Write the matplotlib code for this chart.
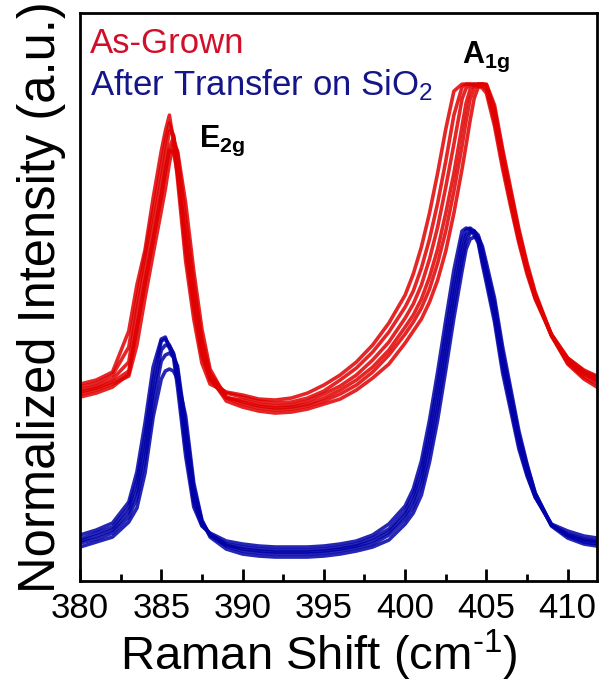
import matplotlib
matplotlib.use("Agg")
import matplotlib.pyplot as plt
from matplotlib.ticker import MultipleLocator

plt.rcParams['font.family'] = ['Liberation Sans', 'DejaVu Sans']
plt.rcParams['mathtext.fontset'] = 'custom'
plt.rcParams['mathtext.rm'] = 'Liberation Sans'
plt.rcParams['mathtext.it'] = 'Liberation Sans'
plt.rcParams['mathtext.bf'] = 'Liberation Sans:bold'

# Raman shift grid (cm^-1), denser around the E2g and A1g peaks
shift = [380, 381, 382, 383, 383.5, 384, 384.5, 385, 385.25, 385.5, 385.75, 386,
         386.5, 387, 387.5, 388, 389, 390, 391, 392, 393, 394, 395, 396, 397, 398,
         399, 400, 400.5, 401, 401.5, 402, 402.5, 403, 403.5, 403.75, 404, 404.25,
         404.5, 404.75, 405, 405.5, 406, 406.5, 407, 407.5, 408, 409, 410, 411, 411.8]

# as-grown spectra (offset upward)
grown = [
    [1.97, 2.01, 2.09, 2.50, 2.96, 3.31, 3.83, 4.30, 4.50, 4.66, 4.40, 4.02, 3.20, 2.62, 2.18, 1.97, 1.89,
     1.86, 1.82, 1.81, 1.83, 1.88, 1.96, 2.06, 2.19, 2.36, 2.58, 2.86, 3.07, 3.34, 3.68, 4.08, 4.52, 4.90,
     4.97, 4.97, 4.97, 4.96, 4.95, 4.93, 4.88, 4.55, 4.12, 3.74, 3.38, 3.07, 2.82, 2.46, 2.23, 2.11, 2.05],
    [1.94, 1.98, 2.06, 2.34, 2.83, 3.26, 3.70, 4.16, 4.40, 4.58, 4.45, 4.10, 3.30, 2.72, 2.25, 2.03, 1.88,
     1.84, 1.80, 1.78, 1.79, 1.83, 1.90, 2.01, 2.13, 2.29, 2.49, 2.74, 2.90, 3.13, 3.42, 3.78, 4.20, 4.66,
     4.94, 4.97, 4.97, 4.97, 4.96, 4.95, 4.92, 4.60, 4.17, 3.78, 3.41, 3.10, 2.84, 2.47, 2.23, 2.10, 2.04],
    [1.91, 1.95, 2.02, 2.19, 2.70, 3.14, 3.56, 4.01, 4.26, 4.50, 4.46, 4.16, 3.41, 2.81, 2.31, 2.01, 1.83,
     1.81, 1.77, 1.75, 1.76, 1.80, 1.87, 1.95, 2.06, 2.21, 2.39, 2.63, 2.77, 2.96, 3.22, 3.54, 3.94, 4.37,
     4.82, 4.93, 4.96, 4.97, 4.97, 4.97, 4.95, 4.66, 4.21, 3.81, 3.43, 3.11, 2.84, 2.46, 2.21, 2.08, 2.01],
    [1.89, 1.93, 1.99, 2.10, 2.53, 2.99, 3.42, 3.86, 4.09, 4.33, 4.44, 4.28, 3.62, 2.98, 2.42, 2.08, 1.84,
     1.79, 1.75, 1.73, 1.74, 1.77, 1.83, 1.91, 2.01, 2.14, 2.31, 2.54, 2.66, 2.82, 3.04, 3.32, 3.68, 4.08,
     4.55, 4.78, 4.92, 4.96, 4.97, 4.97, 4.96, 4.70, 4.25, 3.85, 3.46, 3.13, 2.86, 2.46, 2.20, 2.07, 2.00],
    [1.87, 1.91, 1.97, 2.05, 2.36, 2.83, 3.27, 3.70, 3.92, 4.18, 4.38, 4.30, 3.78, 3.10, 2.52, 2.12, 1.83,
     1.77, 1.73, 1.71, 1.72, 1.75, 1.80, 1.87, 1.96, 2.09, 2.26, 2.47, 2.59, 2.73, 2.92, 3.18, 3.50, 3.90,
     4.35, 4.60, 4.82, 4.93, 4.97, 4.97, 4.96, 4.72, 4.28, 3.88, 3.49, 3.15, 2.87, 2.45, 2.18, 2.04, 1.97],
    [1.84, 1.88, 1.94, 2.07, 2.53, 2.98, 3.41, 3.85, 4.12, 4.31, 4.29, 4.08, 3.45, 2.86, 2.36, 2.04, 1.80,
     1.74, 1.70, 1.68, 1.69, 1.72, 1.77, 1.82, 1.91, 2.03, 2.17, 2.38, 2.50, 2.62, 2.79, 3.01, 3.30, 3.68,
     4.12, 4.36, 4.61, 4.83, 4.94, 4.97, 4.97, 4.76, 4.32, 3.92, 3.52, 3.18, 2.89, 2.46, 2.17, 2.02, 1.94],
]

# spectra after transfer onto SiO2
transferred = [
    [0.46, 0.51, 0.58, 0.79, 1.09, 1.58, 2.14, 2.42, 2.44, 2.33, 2.24, 1.94, 1.25, 0.74, 0.55, 0.48, 0.40,
     0.37, 0.35, 0.34, 0.34, 0.34, 0.35, 0.37, 0.40, 0.46, 0.57, 0.75, 0.92, 1.20, 1.61, 2.09, 2.61, 3.11,
     3.50, 3.53, 3.52, 3.46, 3.38, 3.17, 2.98, 2.59, 2.08, 1.70, 1.32, 1.05, 0.84, 0.57, 0.50, 0.45, 0.43],
    [0.42, 0.48, 0.54, 0.74, 1.00, 1.45, 2.01, 2.40, 2.42, 2.36, 2.27, 2.03, 1.34, 0.79, 0.56, 0.47, 0.37,
     0.34, 0.32, 0.31, 0.31, 0.31, 0.32, 0.34, 0.37, 0.43, 0.52, 0.70, 0.86, 1.11, 1.50, 1.97, 2.48, 2.98,
     3.41, 3.51, 3.53, 3.50, 3.40, 3.21, 3.03, 2.64, 2.14, 1.75, 1.36, 1.07, 0.84, 0.56, 0.47, 0.42, 0.40],
    [0.40, 0.45, 0.51, 0.69, 0.91, 1.33, 1.89, 2.31, 2.36, 2.35, 2.28, 2.12, 1.45, 0.86, 0.58, 0.46, 0.36,
     0.32, 0.30, 0.29, 0.29, 0.29, 0.30, 0.32, 0.35, 0.40, 0.49, 0.66, 0.80, 1.03, 1.40, 1.85, 2.36, 2.87,
     3.31, 3.46, 3.50, 3.50, 3.43, 3.26, 3.08, 2.71, 2.21, 1.81, 1.41, 1.11, 0.86, 0.56, 0.46, 0.41, 0.39],
    [0.38, 0.42, 0.48, 0.64, 0.83, 1.21, 1.77, 2.20, 2.26, 2.28, 2.24, 2.15, 1.56, 0.93, 0.60, 0.46, 0.35,
     0.30, 0.28, 0.27, 0.27, 0.27, 0.28, 0.30, 0.33, 0.37, 0.46, 0.62, 0.74, 0.95, 1.30, 1.73, 2.24, 2.75,
     3.21, 3.40, 3.48, 3.50, 3.46, 3.31, 3.13, 2.78, 2.28, 1.87, 1.46, 1.15, 0.88, 0.56, 0.45, 0.39, 0.37],
    [0.34, 0.39, 0.44, 0.59, 0.73, 1.08, 1.64, 2.02, 2.10, 2.12, 2.10, 2.02, 1.65, 0.98, 0.61, 0.44, 0.32,
     0.27, 0.25, 0.24, 0.24, 0.24, 0.25, 0.27, 0.30, 0.34, 0.41, 0.57, 0.68, 0.86, 1.19, 1.61, 2.11, 2.63,
     3.10, 3.32, 3.42, 3.44, 3.44, 3.35, 3.18, 2.83, 2.34, 1.92, 1.50, 1.17, 0.88, 0.55, 0.43, 0.37, 0.35],
]

red = '#e00000'
blue = '#0000a8'

fig = plt.figure(figsize=(6.05, 6.85), dpi=100)
ax = fig.add_axes([0.1322, 0.1518, 0.8545, 0.829])

for spec in grown:
    ax.plot(shift, spec, color=red, lw=2.6, alpha=0.85, solid_joinstyle='round')
for spec in transferred:
    ax.plot(shift, spec, color=blue, lw=2.6, alpha=0.85, solid_joinstyle='round')

ax.set_xlim(380, 411.8)
ax.set_ylim(0, 5.68)
ax.xaxis.set_major_locator(MultipleLocator(5))
ax.xaxis.set_minor_locator(MultipleLocator(2.5))
ax.set_yticks([])
ax.tick_params(axis='x', which='major', direction='in', length=9, width=2,
               labelsize=25, pad=8)
ax.tick_params(axis='x', which='minor', direction='in', length=5, width=2)
for sp in ax.spines.values():
    sp.set_linewidth(2)

ax.set_xlabel(r'Raman Shift (cm$^{\text{-1}}$)', fontsize=34, labelpad=2)
ax.xaxis.label.set_x(0.463)
ax.set_ylabel('Normalized Intensity (a.u.)', fontsize=36.5)
ax.yaxis.set_label_coords(-0.027, 0.5)

ax.text(380.6, 5.28, 'As-Grown', color='#d0102a', fontsize=25)
ax.text(380.6, 4.86, 'After Transfer on SiO$_2$', color='#15158a', fontsize=25)
ax.text(387.3, 4.34, r'$\mathbf{E_{2g}}$', fontsize=22)
ax.text(403.5, 5.18, r'$\mathbf{A_{1g}}$', fontsize=22)

fig.savefig('out.png', dpi=100)
